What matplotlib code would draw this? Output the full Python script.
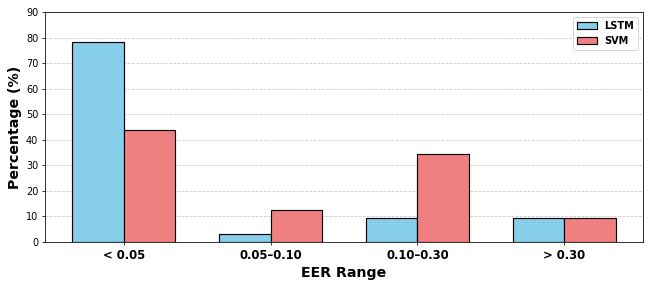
import numpy as np
import matplotlib.pyplot as plt

# EER range buckets and share of users (%) per model
categories = ['< 0.05', '0.05–0.10', '0.10–0.30', '> 0.30']
lstm_pct = [78.1, 3.1, 9.4, 9.4]
svm_pct = [43.8, 12.5, 34.4, 9.4]

x = np.arange(len(categories))
width = 0.35

# drawn at 70 dpi so 650x285 px comes out of a 9.29 x 4.07 in figure
fig, ax = plt.subplots(figsize=(650 / 70, 285 / 70), dpi=70)
ax.bar(x - width / 2, lstm_pct, width, label='LSTM', color='skyblue',
       edgecolor='black', linewidth=1.2, zorder=3)
ax.bar(x + width / 2, svm_pct, width, label='SVM', color='lightcoral',
       edgecolor='black', linewidth=1.2, zorder=3)

ax.set_xticks(x)
ax.set_xticklabels(categories, fontsize=12, fontweight='bold')
ax.set_xlabel('EER Range', fontsize=14.5, fontweight='bold')
ax.set_ylabel('Percentage (%)', fontsize=14.5, fontweight='bold')
ax.set_ylim(0, 90)
ax.set_yticks(range(0, 91, 10))
ax.tick_params(axis='y', labelsize=10)
ax.grid(axis='y', linestyle='--', alpha=0.7, zorder=0)
ax.legend(prop={'weight': 'bold', 'size': 10}, loc='upper right')

plt.subplots_adjust(left=45 / 650, right=643 / 650, top=1 - 12 / 285, bottom=1 - 242 / 285)
plt.savefig('out.png', dpi=70)
